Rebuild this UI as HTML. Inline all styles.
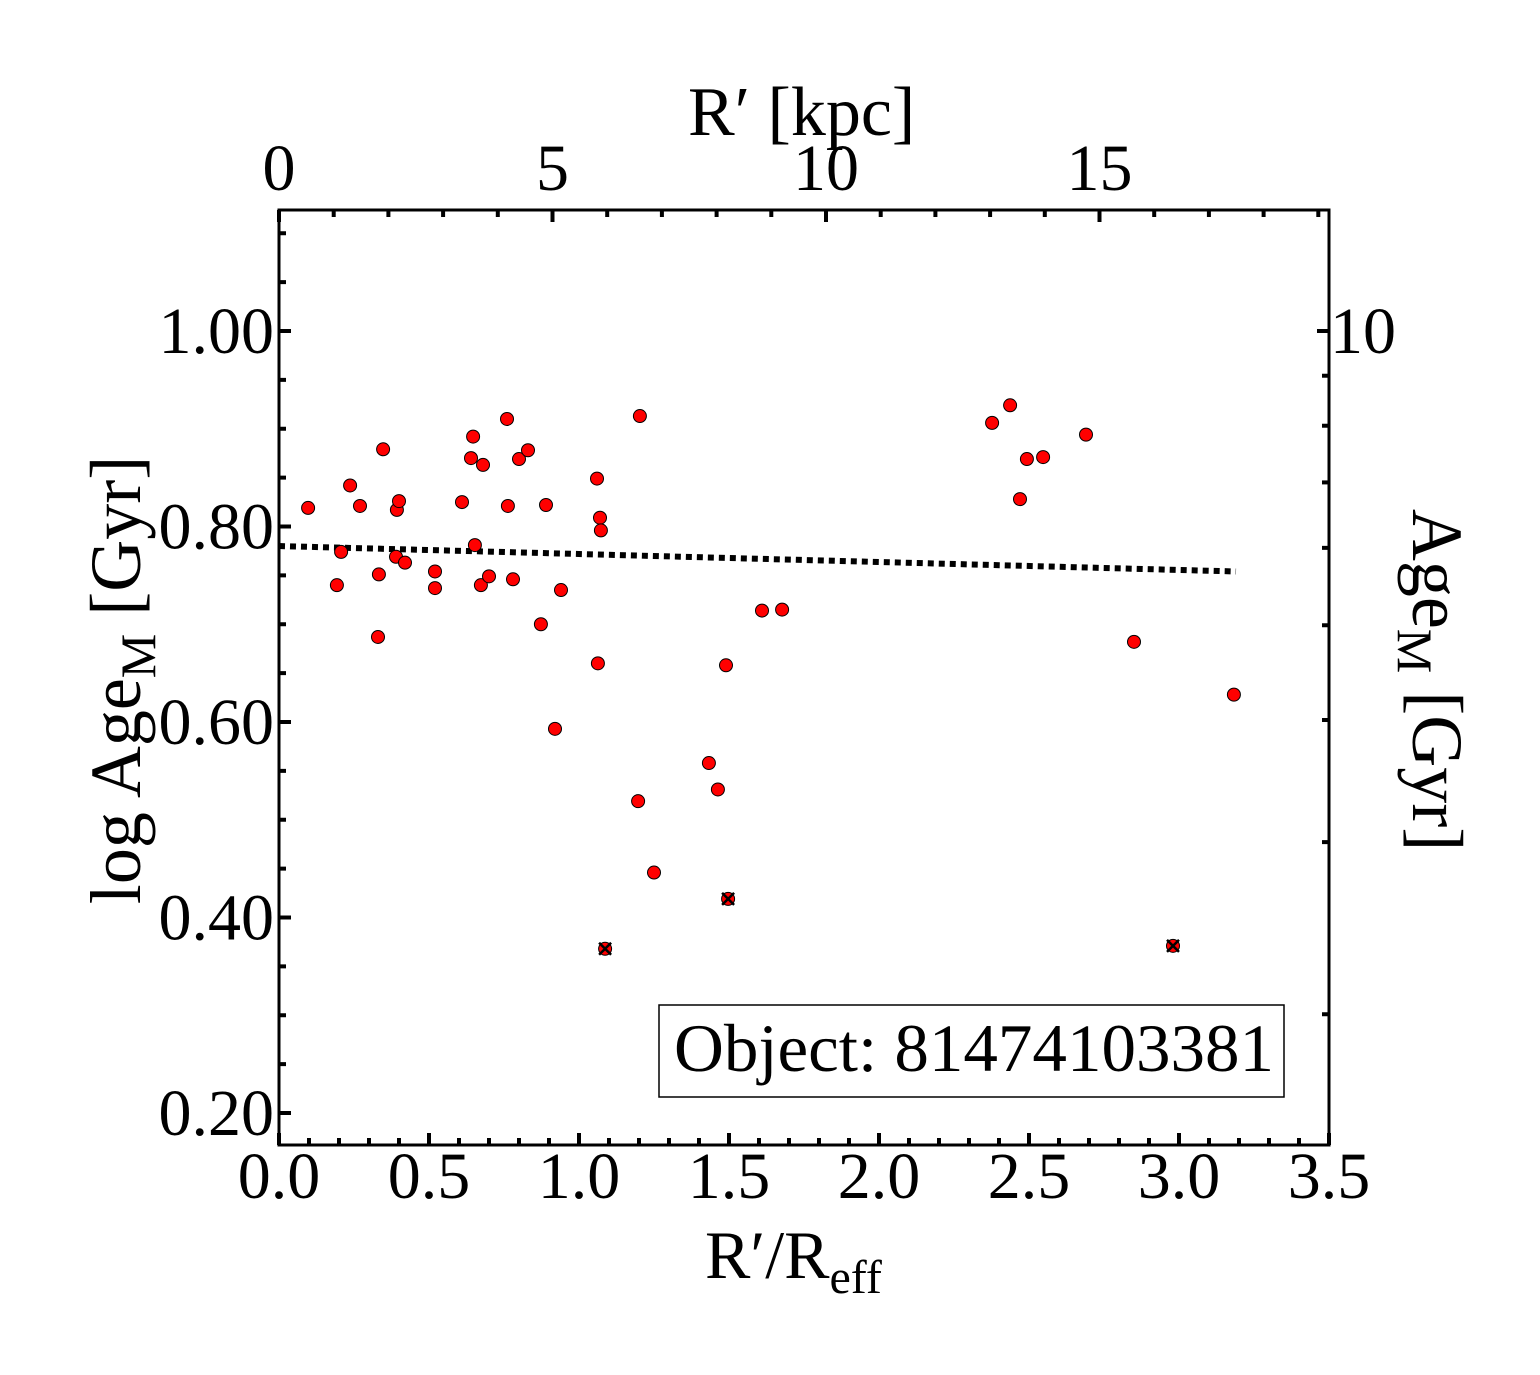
<!DOCTYPE html>
<html><head><meta charset="utf-8"><style>
html,body{margin:0;padding:0;background:#fff;}
svg{display:block;font-family:"Liberation Serif","Times New Roman",serif;}
</style></head><body>
<svg id="chart" width="1540" height="1375" viewBox="0 0 1540 1375" xmlns="http://www.w3.org/2000/svg">
<g id="ticks"></g>
<g id="fit"></g>
<g id="pts"></g>
<rect x="279" y="210" width="1050" height="935" fill="none" stroke="#000" stroke-width="3"/>
<g id="labels" font-size="66" fill="#000"></g>
<text x="705" y="1278" font-size="68">R′/R<tspan font-size="48" dy="15">eff</tspan></text>
<text x="688" y="135" font-size="70">R′ [kpc]</text>
<text transform="translate(140,680) rotate(-90)" text-anchor="middle" font-size="72">log Age<tspan font-size="50" dy="15">M</tspan><tspan dy="-15"> [Gyr]</tspan></text>
<text transform="translate(1413,680) rotate(90)" text-anchor="middle" font-size="72">Age<tspan font-size="50" dy="15">M</tspan><tspan dy="-15"> [Gyr]</tspan></text>
<g>
<rect x="659" y="1005" width="625" height="92" fill="#fff" stroke="#000" stroke-width="1.5"/>
<text x="674" y="1071" font-size="68" textLength="600" lengthAdjust="spacingAndGlyphs">Object: 81474103381</text>
</g>
</svg>
<script>
const xVals=[0.097,0.207,0.193,0.237,0.270,0.333,0.330,0.347,0.390,0.393,0.400,0.420,0.520,0.520,0.610,0.640,0.647,0.653,0.673,0.680,0.700,0.760,0.763,0.780,0.800,0.830,0.873,0.890,0.920,0.940,1.060,1.063,1.070,1.073,1.203,1.197,1.250,1.433,1.463,1.490,1.610,1.677,2.377,2.437,2.470,2.493,2.547,2.690,2.850,3.183];
const yVals=[0.819,0.774,0.740,0.842,0.821,0.751,0.687,0.879,0.769,0.817,0.826,0.763,0.754,0.737,0.825,0.870,0.892,0.781,0.740,0.863,0.749,0.910,0.821,0.746,0.869,0.878,0.700,0.822,0.593,0.735,0.849,0.660,0.809,0.796,0.913,0.519,0.446,0.558,0.531,0.658,0.714,0.715,0.906,0.924,0.828,0.869,0.871,0.894,0.682,0.628];
const xCross=[1.087,1.497,2.980];
const yCross=[0.368,0.419,0.371];
const fitX=[0,3.19];
const fitY=[0.780,0.754];
const xTickLabels=["0.0","0.5","1.0","1.5","2.0","2.5","3.0","3.5"];
const yTickLabels=["0.20","0.40","0.60","0.80","1.00"];
const topTickLabels=["0","5","10","15"];
const rightTickVals=[2,3,4,5,6,7,8,9,10];

const X0=279,X1=1329,Y0=210,Y1=1145;
const sx=v=>X0+v*300;
const sy=v=>331+(1-v)*977.5;
const sk=k=>X0+k*54.7;
const NS="http://www.w3.org/2000/svg";
function mk(tag,attrs,parent){const e=document.createElementNS(NS,tag);for(const k in attrs)e.setAttribute(k,attrs[k]);parent.appendChild(e);return e;}
const T=document.getElementById('ticks'),L=document.getElementById('labels');
function line(x1,y1,x2,y2,w){const e=mk('line',{x1:x1,y1:y1,x2:x2,y2:y2,stroke:'#000','stroke-width':w},T);

}
for(let i=0;i<=35;i++){const x=sx(i/10);const maj=i%5==0;line(x,Y1,x,Y1-(maj?12:7),4);}
xTickLabels.forEach(s=>{const t=mk('text',{x:sx(parseFloat(s)),y:1198,'text-anchor':'middle'},L);t.textContent=s;

});
for(let k=0;k<=19;k++){const x=sk(k);if(x>X1)break;const maj=k%5==0;line(x,Y0,x,Y0+(maj?12:7),4);}
topTickLabels.forEach(s=>{const t=mk('text',{x:sk(parseFloat(s)),y:190,'text-anchor':'middle'},L);t.textContent=s;

});
for(let i=4;i<=22;i++){const v=i*0.05;const y=sy(v);if(y<Y0||y>Y1)continue;const maj=i%4==0;line(X0,y,X0+(maj?12:7),y,4);}
yTickLabels.forEach(s=>{const t=mk('text',{x:274,y:sy(parseFloat(s))+22,'text-anchor':'end'},L);t.textContent=s;

});
rightTickVals.forEach(v=>{const y=sy(Math.log10(v));const maj=v==10;line(X1,y,X1-(maj?12:7),y,4);});
{const t=mk('text',{x:1330,y:sy(1)+22},L);t.textContent="10";

}
{const e=mk('line',{x1:sx(fitX[0]),y1:sy(fitY[0]),x2:sx(fitX[1]),y2:sy(fitY[1]),stroke:'#000','stroke-width':6,'stroke-dasharray':'6 5'},document.getElementById('fit'));

}
const P=document.getElementById('pts');
xVals.forEach((v,i)=>{const c=mk('circle',{cx:sx(v),cy:sy(yVals[i]),r:6.5,fill:'#f00',stroke:'#000','stroke-width':1},P);

});
xCross.forEach((v,i)=>{const cx=sx(v),cy=sy(yCross[i]);
const g=mk('g',{},P);


mk('circle',{cx:cx,cy:cy,r:6.5,fill:'#f00',stroke:'#000','stroke-width':1},g);
mk('path',{d:`M${cx-6},${cy-6}L${cx+6},${cy+6}M${cx-6},${cy+6}L${cx+6},${cy-6}`,stroke:'#000','stroke-width':2.5},g);});
</script>
</body></html>
